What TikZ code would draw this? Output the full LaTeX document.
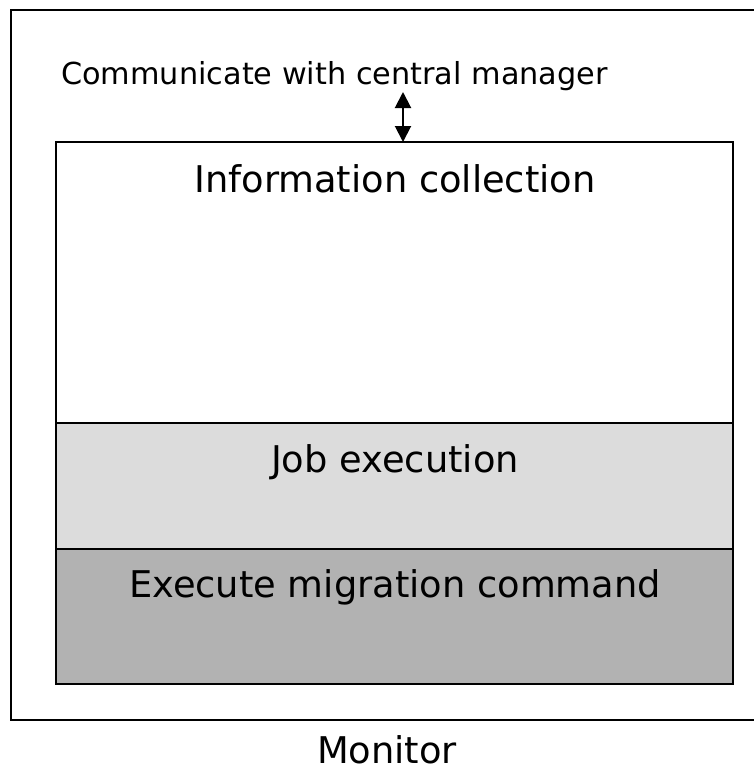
\documentclass[tikz,border=0pt]{standalone}
\usepackage{fontspec}
\setmainfont{DejaVu Sans}
\usetikzlibrary{arrows.meta}
\definecolor{lightfill}{HTML}{DCDCDC}
\definecolor{darkfill}{HTML}{B2B2B2}
\begin{document}
\begin{tikzpicture}[x=1pt,y=-1pt,
  section/.style={draw=black, line width=1.5pt, rectangle, minimum width=677pt, inner sep=0pt, outer sep=0pt, anchor=north west},
  bigtext/.style={font=\fontsize{36.8}{40}\selectfont, anchor=base, inner sep=0pt},
  toptext/.style={font=\fontsize{30.3}{34}\selectfont, anchor=base west, inner sep=0pt},
  headtip/.tip={Triangle[length=16pt,width=16pt]}]
\useasboundingbox (0,0) rectangle (754,771);
\begin{scope}
\clip (0,0) rectangle (754,771);
\draw[line width=1.5pt] (770,10) -- (11,10) -- (11,720) -- (770,720);
\end{scope}
\node[section, minimum height=281pt, fill=white] (info) at (56,142) {};
\node[section, minimum height=126pt, fill=lightfill] (job) at (56,423) {};
\node[section, minimum height=135pt, fill=darkfill] (exec) at (56,549) {};
\node[bigtext] (infolabel) at (395,192) {Information collection};
\node[bigtext] (joblabel) at (395,472) {Job execution};
\node[bigtext] (execlabel) at (395,597) {Execute migration command};
\node[bigtext] (monitor) at (387,763) {Monitor};
\node[toptext] (comm) at (61,84) {Communicate with central manager};
\coordinate (arrtop) at (403,92);
\draw[line width=2pt, {headtip}-{headtip}] (arrtop) -- (arrtop |- info.north);
\end{tikzpicture}
\end{document}
